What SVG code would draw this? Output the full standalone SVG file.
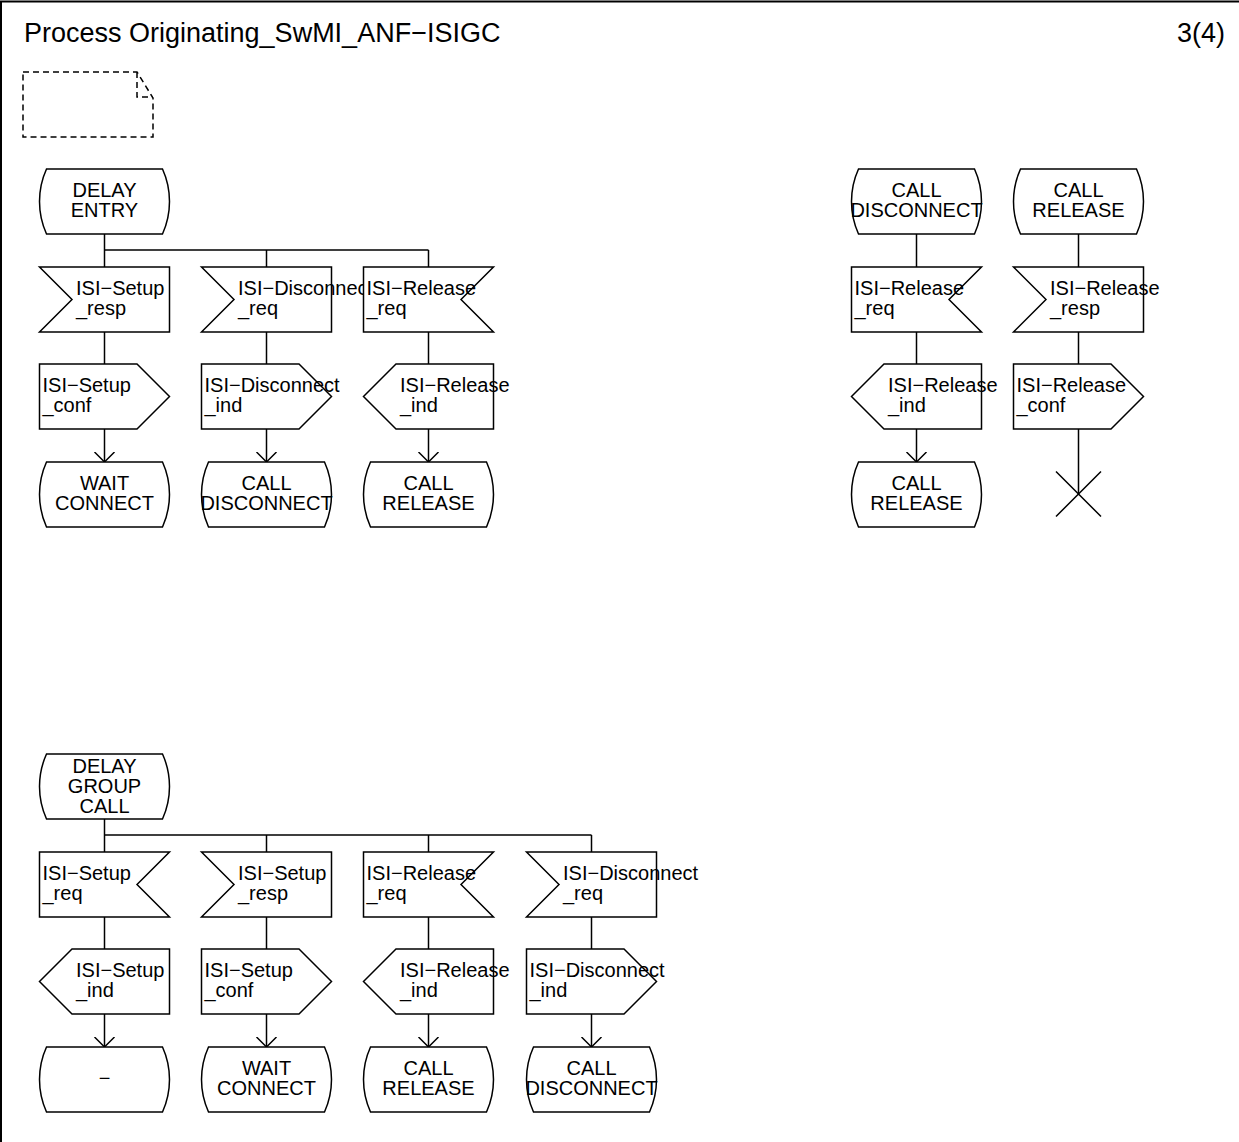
<svg xmlns="http://www.w3.org/2000/svg" width="1239" height="1142" viewBox="0 0 1239 1142">
<style>
.s{fill:none;stroke:#000;stroke-width:1.5}
.b{fill:#fff;stroke:#000;stroke-width:1.5}
.t{font-family:"Liberation Sans",Arial,sans-serif;font-size:20px;fill:#000}
.c{text-anchor:middle}
.h{font-family:"Liberation Sans",Arial,sans-serif;font-size:27px;fill:#000}
</style>
<defs>
<marker id="a" markerWidth="24" markerHeight="24" refX="10" refY="11" orient="auto" markerUnits="userSpaceOnUse" viewBox="0 0 24 24"><path d="M0,1 L10,11 L0,21" fill="none" stroke="#000" stroke-width="1.5"/></marker>
</defs>
<path d="M1,1142 V1.5 H1239" fill="none" stroke="#000" stroke-width="2"/>
<text class="h" x="24" y="42">Process Originating_SwMI_ANF−ISIGC</text>
<text class="h" x="1225" y="42" text-anchor="end">3(4)</text>
<g id="note">
<path d="M23,72 H137 L153,98 V137 H23 Z M137,72 V97 H153" fill="none" stroke="#000" stroke-width="1.5" stroke-dasharray="6 4"/>
</g>
<g id="connectors" class="s">
<path d="M104.5,234 V267 M104.5,250 H428.5 M266.5,250 V267 M428.5,250 V267"/>
<path d="M104.5,332 V364 M266.5,332 V364 M428.5,332 V364"/>
<path d="M104.5,429 V462" marker-end="url(#a)"/>
<path d="M266.5,429 V462" marker-end="url(#a)"/>
<path d="M428.5,429 V462" marker-end="url(#a)"/>
<path d="M916.5,234 V267 M1078.5,234 V267 M916.5,332 V364 M1078.5,332 V364 M1078.5,429 V494"/>
<path d="M916.5,429 V462" marker-end="url(#a)"/>
<path d="M104.5,819 V852 M104.5,835 H591.5 M266.5,835 V852 M428.5,835 V852 M591.5,835 V852"/>
<path d="M104.5,917 V949 M266.5,917 V949 M428.5,917 V949 M591.5,917 V949"/>
<path d="M104.5,1014 V1047" marker-end="url(#a)"/>
<path d="M266.5,1014 V1047" marker-end="url(#a)"/>
<path d="M428.5,1014 V1047" marker-end="url(#a)"/>
<path d="M591.5,1014 V1047" marker-end="url(#a)"/>
</g>
<g id="delay_entry"><path class="b" d="M46.5,169 H162.5 A79,79 0 0 1 162.5,234 H46.5 A79,79 0 0 1 46.5,169 Z"/><text class="t c" x="104.5" y="197">DELAY</text><text class="t c" x="104.5" y="217">ENTRY</text></g>
<g id="in_setup_resp"><path class="b" d="M39.5,267 H169.5 V332 H39.5 L72,299.5 Z"/><text class="t" x="76" y="295">ISI−Setup</text><text class="t" x="76" y="315">_resp</text></g>
<g id="in_disc_req"><path class="b" d="M201.5,267 H331.5 V332 H201.5 L234,299.5 Z"/><text class="t" x="238" y="295">ISI−Disconnect</text><text class="t" x="238" y="315">_req</text></g>
<g id="in_rel_req"><path class="b" d="M363.5,267 H493.5 L461,299.5 L493.5,332 H363.5 Z"/><text class="t" x="366.5" y="295">ISI−Release</text><text class="t" x="366.5" y="315">_req</text></g>
<g id="out_setup_conf"><path class="b" d="M39.5,364 H137 L169.5,396.5 L137,429 H39.5 Z"/><text class="t" x="42.5" y="392">ISI−Setup</text><text class="t" x="42.5" y="412">_conf</text></g>
<g id="out_disc_ind"><path class="b" d="M201.5,364 H299 L331.5,396.5 L299,429 H201.5 Z"/><text class="t" x="204.5" y="392">ISI−Disconnect</text><text class="t" x="204.5" y="412">_ind</text></g>
<g id="out_rel_ind"><path class="b" d="M396,364 H493.5 V429 H396 L363.5,396.5 Z"/><text class="t" x="400" y="392">ISI−Release</text><text class="t" x="400" y="412">_ind</text></g>
<g id="st_wait_connect"><path class="b" d="M46.5,462 H162.5 A79,79 0 0 1 162.5,527 H46.5 A79,79 0 0 1 46.5,462 Z"/><text class="t c" x="104.5" y="490">WAIT</text><text class="t c" x="104.5" y="510">CONNECT</text></g>
<g id="st_call_disconnect"><path class="b" d="M208.5,462 H324.5 A79,79 0 0 1 324.5,527 H208.5 A79,79 0 0 1 208.5,462 Z"/><text class="t c" x="266.5" y="490">CALL</text><text class="t c" x="266.5" y="510">DISCONNECT</text></g>
<g id="st_call_release"><path class="b" d="M370.5,462 H486.5 A79,79 0 0 1 486.5,527 H370.5 A79,79 0 0 1 370.5,462 Z"/><text class="t c" x="428.5" y="490">CALL</text><text class="t c" x="428.5" y="510">RELEASE</text></g>
<g id="r_call_disconnect"><path class="b" d="M858.5,169 H974.5 A79,79 0 0 1 974.5,234 H858.5 A79,79 0 0 1 858.5,169 Z"/><text class="t c" x="916.5" y="197">CALL</text><text class="t c" x="916.5" y="217">DISCONNECT</text></g>
<g id="r_call_release"><path class="b" d="M1020.5,169 H1136.5 A79,79 0 0 1 1136.5,234 H1020.5 A79,79 0 0 1 1020.5,169 Z"/><text class="t c" x="1078.5" y="197">CALL</text><text class="t c" x="1078.5" y="217">RELEASE</text></g>
<g id="r_in_rel_req"><path class="b" d="M851.5,267 H981.5 L949,299.5 L981.5,332 H851.5 Z"/><text class="t" x="854.5" y="295">ISI−Release</text><text class="t" x="854.5" y="315">_req</text></g>
<g id="r_in_rel_resp"><path class="b" d="M1013.5,267 H1143.5 V332 H1013.5 L1046,299.5 Z"/><text class="t" x="1050" y="295">ISI−Release</text><text class="t" x="1050" y="315">_resp</text></g>
<g id="r_out_rel_ind"><path class="b" d="M884,364 H981.5 V429 H884 L851.5,396.5 Z"/><text class="t" x="888" y="392">ISI−Release</text><text class="t" x="888" y="412">_ind</text></g>
<g id="r_out_rel_conf"><path class="b" d="M1013.5,364 H1111 L1143.5,396.5 L1111,429 H1013.5 Z"/><text class="t" x="1016.5" y="392">ISI−Release</text><text class="t" x="1016.5" y="412">_conf</text></g>
<g id="r_st_call_release"><path class="b" d="M858.5,462 H974.5 A79,79 0 0 1 974.5,527 H858.5 A79,79 0 0 1 858.5,462 Z"/><text class="t c" x="916.5" y="490">CALL</text><text class="t c" x="916.5" y="510">RELEASE</text></g>
<g id="r_stop"><path class="s" d="M1056,471.5 L1101,516.5 M1101,471.5 L1056,516.5"/></g>
<g id="delay_group_call"><path class="b" d="M46.5,754 H162.5 A79,79 0 0 1 162.5,819 H46.5 A79,79 0 0 1 46.5,754 Z"/><text class="t c" x="104.5" y="773">DELAY</text><text class="t c" x="104.5" y="793">GROUP</text><text class="t c" x="104.5" y="813">CALL</text></g>
<g id="b_in_setup_req"><path class="b" d="M39.5,852 H169.5 L137,884.5 L169.5,917 H39.5 Z"/><text class="t" x="42.5" y="880">ISI−Setup</text><text class="t" x="42.5" y="900">_req</text></g>
<g id="b_in_setup_resp"><path class="b" d="M201.5,852 H331.5 V917 H201.5 L234,884.5 Z"/><text class="t" x="238" y="880">ISI−Setup</text><text class="t" x="238" y="900">_resp</text></g>
<g id="b_in_rel_req"><path class="b" d="M363.5,852 H493.5 L461,884.5 L493.5,917 H363.5 Z"/><text class="t" x="366.5" y="880">ISI−Release</text><text class="t" x="366.5" y="900">_req</text></g>
<g id="b_in_disc_req"><path class="b" d="M526.5,852 H656.5 V917 H526.5 L559,884.5 Z"/><text class="t" x="563" y="880">ISI−Disconnect</text><text class="t" x="563" y="900">_req</text></g>
<g id="b_out_setup_ind"><path class="b" d="M72,949 H169.5 V1014 H72 L39.5,981.5 Z"/><text class="t" x="76" y="977">ISI−Setup</text><text class="t" x="76" y="997">_ind</text></g>
<g id="b_out_setup_conf"><path class="b" d="M201.5,949 H299 L331.5,981.5 L299,1014 H201.5 Z"/><text class="t" x="204.5" y="977">ISI−Setup</text><text class="t" x="204.5" y="997">_conf</text></g>
<g id="b_out_rel_ind"><path class="b" d="M396,949 H493.5 V1014 H396 L363.5,981.5 Z"/><text class="t" x="400" y="977">ISI−Release</text><text class="t" x="400" y="997">_ind</text></g>
<g id="b_out_disc_ind"><path class="b" d="M526.5,949 H624 L656.5,981.5 L624,1014 H526.5 Z"/><text class="t" x="529.5" y="977">ISI−Disconnect</text><text class="t" x="529.5" y="997">_ind</text></g>
<g id="b_st_dash"><path class="b" d="M46.5,1047 H162.5 A79,79 0 0 1 162.5,1112 H46.5 A79,79 0 0 1 46.5,1047 Z"/><text class="t c" x="104.5" y="1085">−</text></g>
<g id="b_st_wait_connect"><path class="b" d="M208.5,1047 H324.5 A79,79 0 0 1 324.5,1112 H208.5 A79,79 0 0 1 208.5,1047 Z"/><text class="t c" x="266.5" y="1075">WAIT</text><text class="t c" x="266.5" y="1095">CONNECT</text></g>
<g id="b_st_call_release"><path class="b" d="M370.5,1047 H486.5 A79,79 0 0 1 486.5,1112 H370.5 A79,79 0 0 1 370.5,1047 Z"/><text class="t c" x="428.5" y="1075">CALL</text><text class="t c" x="428.5" y="1095">RELEASE</text></g>
<g id="b_st_call_disconnect"><path class="b" d="M533.5,1047 H649.5 A79,79 0 0 1 649.5,1112 H533.5 A79,79 0 0 1 533.5,1047 Z"/><text class="t c" x="591.5" y="1075">CALL</text><text class="t c" x="591.5" y="1095">DISCONNECT</text></g>
</svg>
